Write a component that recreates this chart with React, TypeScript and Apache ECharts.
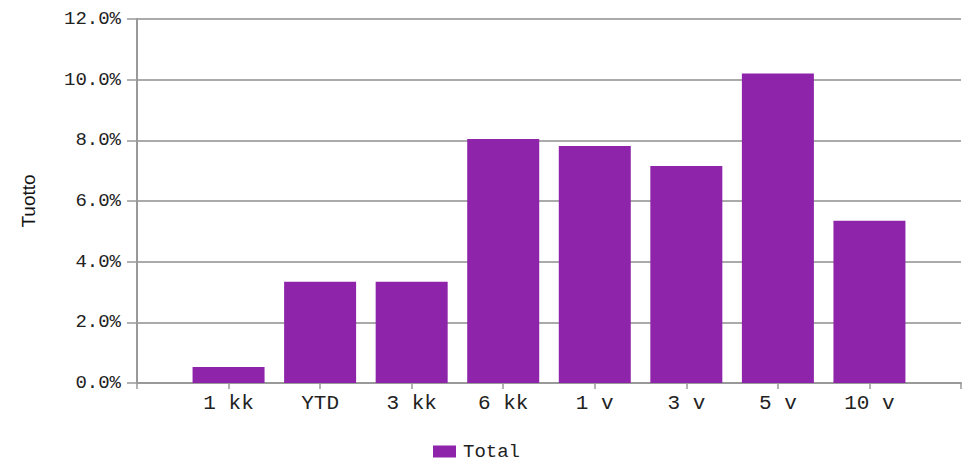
import React, { useEffect, useRef } from "react";
import * as echarts from "echarts";

const categories = ["1 kk", "YTD", "3 kk", "6 kk", "1 v", "3 v", "5 v", "10 v"];
const totalValues = [0.53, 3.34, 3.34, 8.04, 7.81, 7.15, 10.2, 5.35];
const seriesName = "Total";
const yAxisName = "Tuotto";

export default function App() {
  const ref = useRef<HTMLDivElement>(null);
  useEffect(() => {
    document.body.style.margin = "0";
    if (!ref.current) return;
    const chart = echarts.init(ref.current, undefined, { renderer: "svg" });
    const axisCats = ["", ...categories, ""];
    const data = [null, ...totalValues, null];
    const mono = "Liberation Mono";
    chart.setOption({
      animation: false,
      grid: { left: 137, right: 0, top: 19, bottom: 80, containLabel: false },
      legend: {
        left: 428,
        top: 437,
        icon: "rect",
        itemWidth: 23,
        itemHeight: 12,
        itemGap: 8,
        textStyle: { fontFamily: mono, fontSize: 19, color: "#222", padding: [0, 0, 0, 2] },
        data: [seriesName],
      },
      xAxis: {
        type: "category",
        data: axisCats,
        boundaryGap: false,
        axisLine: { lineStyle: { color: "#999", width: 2 } },
        axisTick: { show: true, length: 6, alignWithLabel: true, lineStyle: { color: "#999", width: 1.5 } },
        axisLabel: { fontFamily: mono, fontSize: 21, color: "#222", margin: 10, interval: 0 },
        splitLine: { show: false },
      },
      yAxis: {
        type: "value",
        min: 0,
        max: 12,
        interval: 2,
        name: yAxisName,
        nameLocation: "middle",
        nameGap: 99,
        nameTextStyle: { fontFamily: "Liberation Sans", fontSize: 19, color: "#111" },
        axisLine: { show: true, lineStyle: { color: "#999", width: 2 } },
        axisTick: { show: true, length: 10, lineStyle: { color: "#999", width: 1.5 } },
        axisLabel: {
          fontFamily: mono,
          fontSize: 19,
          color: "#222",
          margin: 16,
          formatter: (v: number) => v.toFixed(1) + "%",
        },
        splitLine: { show: true, lineStyle: { color: "#aaa", width: 2 } },
      },
      series: [
        {
          name: seriesName,
          type: "bar",
          data,
          barWidth: 72,
          itemStyle: { color: "#8E24AA" },
        },
      ],
    });
    return () => chart.dispose();
  }, []);
  return <div ref={ref} style={{ width: 964, height: 463 }} />;
}
